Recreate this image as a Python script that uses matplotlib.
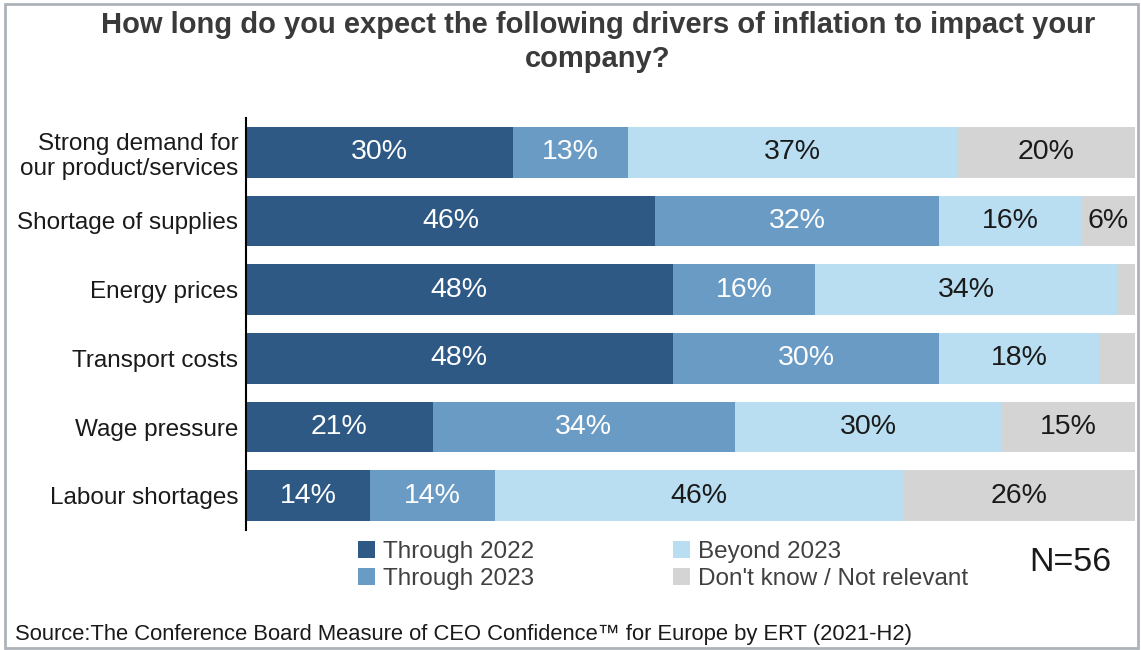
import matplotlib.pyplot as plt
from matplotlib.patches import Rectangle

plt.rcParams["font.family"] = ["Liberation Sans", "DejaVu Sans"]

categories = [
    "Strong demand for\nour product/services",
    "Shortage of supplies",
    "Energy prices",
    "Transport costs",
    "Wage pressure",
    "Labour shortages",
]
through_2022 = [30, 46, 48, 48, 21, 14]
through_2023 = [13, 32, 16, 30, 34, 14]
beyond_2023 = [37, 16, 34, 18, 30, 46]
dont_know = [20, 6, 2, 4, 15, 26]

series = [
    ("Through 2022", through_2022, "#2e5985", "white"),
    ("Through 2023", through_2023, "#6a9bc4", "white"),
    ("Beyond 2023", beyond_2023, "#b9ddf1", "#1a1a1a"),
    ("Don't know / Not relevant", dont_know, "#d4d4d4", "#1a1a1a"),
]


def main():
    fig = plt.figure(figsize=(11.41, 6.5), dpi=100)
    ax = fig.add_axes([0.2156, 0.1846, 0.7791, 0.6339])

    y = list(range(len(categories)))
    left = [0] * len(categories)
    handles = []
    for name, vals, color, txt in series:
        bars = ax.barh(y, vals, left=left, height=0.74, color=color, label=name)
        labels = [f"{v}%" if v >= 5 else "" for v in vals]
        ax.bar_label(bars, labels=labels, label_type="center", color=txt, fontsize=20.5)
        left = [a + b for a, b in zip(left, vals)]
        handles.append(bars)

    ax.set_xlim(0, 100)
    ax.set_ylim(len(categories) - 0.5, -0.5)
    ax.set_yticks(y)
    ax.set_yticklabels(categories, fontsize=17.5, color="#1a1a1a")
    ax.tick_params(axis="y", length=0, pad=5.5)
    ax.set_xticks([])
    for side in ["top", "right", "bottom"]:
        ax.spines[side].set_visible(False)
    ax.spines["left"].set_linewidth(1.5)

    fig.text(0.524, 0.983,
             "How long do you expect the following drivers of inflation to impact your\ncompany?",
             ha="center", va="top", fontsize=21, fontweight="bold", color="#3a3a3a",
             linespacing=1.25)

    fig.legend(handles=handles, loc="upper left", bbox_to_anchor=(0.3035, 0.187),
               ncol=2, frameon=False, fontsize=17.5, handlelength=0.7, handleheight=0.7,
               handletextpad=0.33, columnspacing=5.7, labelspacing=0.24,
               borderpad=0, labelcolor="#404040")

    fig.text(0.9378, 0.134, "N=56", ha="center", va="center", fontsize=24.5, color="#1a1a1a")
    fig.text(0.013, 0.0246, "Source:The Conference Board Measure of CEO Confidence\u2122 for Europe by ERT (2021-H2)",
             ha="left", va="center", fontsize=15.8, color="#1a1a1a")

    fig.patches.append(Rectangle((0.004, 0.003), 0.993, 0.991, transform=fig.transFigure,
                                 fill=False, edgecolor="#aeb2ba", linewidth=2))

    fig.savefig("out.png", dpi=100)
    plt.close(fig)


if __name__ == "__main__":
    main()
